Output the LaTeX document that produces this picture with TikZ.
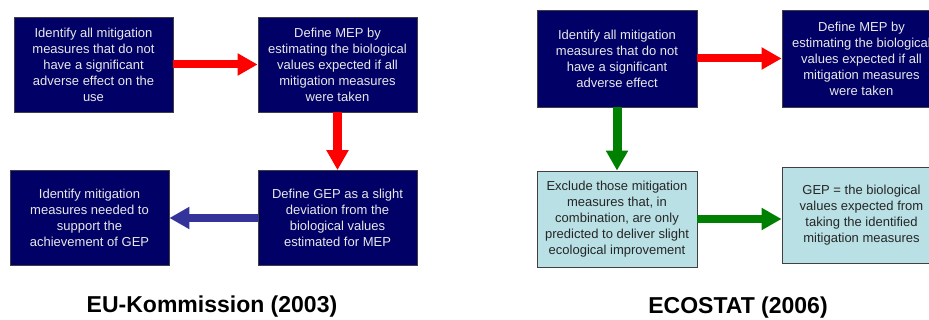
\documentclass[tikz,border=0pt]{standalone}
\usepackage{fontspec}
\setmainfont{Liberation Sans}
\usetikzlibrary{arrows.meta}
\definecolor{navy}{HTML}{000066}
\definecolor{paleblue}{HTML}{B9E0E4}
\definecolor{boxtext}{HTML}{E8E8E8}
\definecolor{arrowred}{HTML}{FF0000}
\definecolor{arrowgreen}{HTML}{008000}
\definecolor{arrowblue}{HTML}{333399}
\tikzset{
  stepbox/.style={rectangle, draw=black!75, line width=0.8pt, align=center,
    minimum width=159pt, minimum height=95pt, inner sep=0pt,
    font=\fontsize{13}{16}\selectfont},
  darkbox/.style={stepbox, fill=navy, text=boxtext},
  lightbox/.style={stepbox, fill=paleblue, text=black!85},
  blockarrow/.style={line width=8pt, -{Triangle[length=20pt,width=21pt]}},
  heading/.style={font=\fontsize{23}{28}\selectfont\bfseries, text=black}
}
\begin{document}
\begin{tikzpicture}[x=1pt, y=-1pt]
\useasboundingbox (0,0) rectangle (929,320);
\clip (0,0) rectangle (929,320);

% EU-Kommission (2003)
\node[darkbox] (b1) at (93.5,64.5) {Identify all mitigation\\measures that do not\\have a significant\\adverse effect on the\\use};
\node[darkbox] (b2) at (337.5,64.5) {Define MEP by\\estimating the biological\\values expected if all\\mitigation measures\\were taken};
\node[darkbox] (b3) at (337.5,218) {Define GEP as a slight\\deviation from the\\biological values\\estimated for MEP};
\node[darkbox] (b4) at (89.5,218) {Identify mitigation\\measures needed to\\support the\\achievement of GEP};

\draw[blockarrow, arrowred] (b1.east) -- (b2.west);
\draw[blockarrow, arrowred, line width=9pt] (b2.south) -- (b3.north);
\draw[blockarrow, arrowblue] (b3.west) -- (b3.west -| b4.east);

\node[heading] (t1) at (212,307) {EU-Kommission (2003)};

% ECOSTAT (2006)
\node[darkbox, minimum height=97pt, minimum width=160pt] (b5) at (617,58.5) {Identify all mitigation\\measures that do not\\have a significant\\adverse effect};
\node[darkbox, minimum height=97pt] (b6) at (861.5,58.5) {Define MEP by\\estimating the biological\\values expected if all\\mitigation measures\\were taken};
\node[lightbox, minimum height=96pt, minimum width=160pt] (b7) at (617,219) {Exclude those mitigation\\measures that, in\\combination, are only\\predicted to deliver slight\\ecological improvement};
\node[lightbox, minimum height=96pt] (b8) at (861.5,215) {GEP = the biological\\values expected from\\taking the identified\\mitigation measures};

\draw[blockarrow, arrowred] (b5.east) -- (b6.west);
\draw[blockarrow, arrowgreen, line width=9pt] (b5.south) -- (b7.north);
\draw[blockarrow, arrowgreen] (b7.east) -- (b7.east -| b8.west);

\node[heading] (t2) at (738,308) {ECOSTAT (2006)};
\end{tikzpicture}
\end{document}
